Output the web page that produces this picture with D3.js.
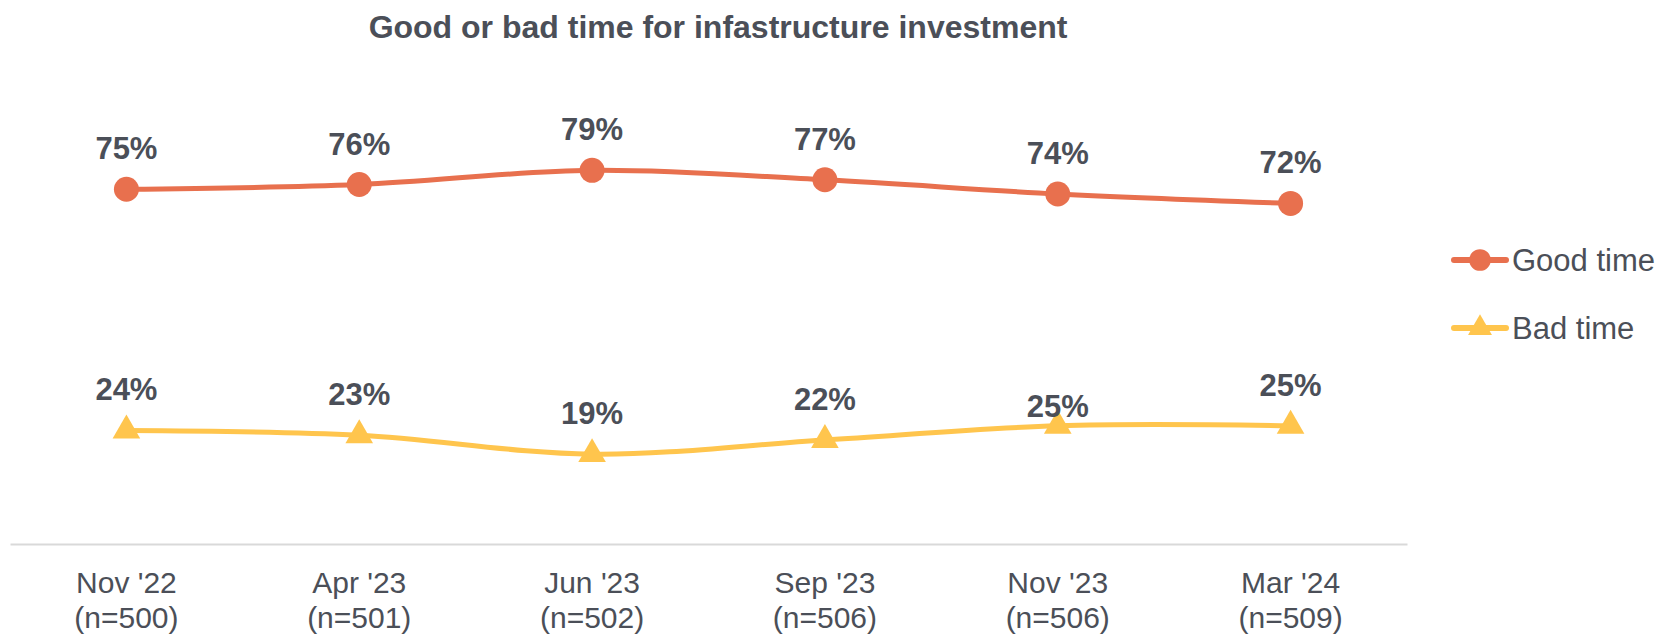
<!DOCTYPE html>
<html lang="en">
<head>
	<meta charset="UTF-8">
	<title>Good or bad time for infastructure investment</title>
	<script src="https://d3js.org/d3.v7.min.js"></script>
	<style>
		body {
			margin: 0;
			background-color: white;
		}
		svg {
			display: block;
			font-family: "Liberation Sans", Arial, sans-serif;
		}
		.axis path,
		.axis line {
			fill: none;
		}
		.axis text {
			font-size: 30px;
			fill: #4b4f58;
		}
		.label {
			font-size: 31px;
			font-weight: bold;
			fill: #4b4f58;
			text-anchor: middle;
		}
	</style>
</head>
<body>
	<script>
		// data
		var waves = ["Nov '22", "Apr '23", "Jun '23", "Sep '23", "Nov '23", "Mar '24"];
		var sampleSizes = ["(n=500)", "(n=501)", "(n=502)", "(n=506)", "(n=506)", "(n=509)"];
		var goodTime = [75, 76, 79, 77, 74, 72];
		var badTime = [24, 23, 19, 22, 25, 25];
		var seriesNames = ["Good time", "Bad time"];

		var w = 1661,
			h = 637;
		var margin = {top: 71, left: 10, right: 254, bottom: 93};
		var plotW = w - margin.left - margin.right,
			plotH = h - margin.top - margin.bottom;

		var colors = {"Good time": "#e8704e", "Bad time": "#ffc54d"};

		var svg = d3.select('body')
			.append('svg')
			.attr("width", w)
			.attr("height", h);

		svg.append('text')
			.attr('x', 718)
			.attr('y', 38)
			.attr('text-anchor', 'middle')
			.attr('font-size', '32px')
			.attr('font-weight', 'bold')
			.attr('fill', '#4b4f58')
			.text('Good or bad time for infastructure investment');

		var g = svg.append('g')
			.attr('transform', 'translate(' + margin.left + ',' + margin.top + ')');

		var x = d3.scaleBand()
			.domain(waves)
			.range([0, plotW]);

		var y = d3.scaleLinear()
			.domain([0, 100])
			.range([plotH, 0]);

		// category axis
		var xAxis = g.append('g')
			.attr('class', 'axis')
			.attr('transform', 'translate(0,' + plotH + ')')
			.call(d3.axisBottom(x).tickSize(0).tickFormat(''));
		xAxis.select('.domain')
			.attr('stroke', '#d9d9d9')
			.attr('stroke-width', 2);

		var ticks = xAxis.selectAll('.tick');
		ticks.select('text').remove();
		ticks.append('text')
			.attr('text-anchor', 'middle')
			.attr('y', 49)
			.text(function (d) { return d; });
		ticks.append('text')
			.attr('text-anchor', 'middle')
			.attr('y', 84)
			.text(function (d, i) { return sampleSizes[i]; });

		var series = [
			{name: "Good time", values: goodTime, marker: d3.symbolCircle, size: 490},
			{name: "Bad time", values: badTime, marker: d3.symbolTriangle, size: 330}
		];

		// Excel places one label lower than the rest
		var labelShift = {"Bad time|Nov '23": 21};

		var line = d3.line()
			.x(function (d, i) { return x(waves[i]) + x.bandwidth() / 2; })
			.y(function (d) { return y(d); })
			.curve(d3.curveCardinal.tension(0));

		series.forEach(function (s) {
			g.append('path')
				.attr('d', line(s.values))
				.attr('fill', 'none')
				.attr('stroke', colors[s.name])
				.attr('stroke-width', 5);

			g.selectAll('.pt-' + s.name.replace(' ', ''))
				.data(s.values)
				.enter()
				.append('path')
				.attr('d', d3.symbol().type(s.marker).size(s.size))
				.attr('fill', colors[s.name])
				.attr('transform', function (d, i) {
					return 'translate(' + (x(waves[i]) + x.bandwidth() / 2) + ',' + y(d) + ')';
				});

			g.selectAll('.lb-' + s.name.replace(' ', ''))
				.data(s.values)
				.enter()
				.append('text')
				.attr('class', 'label')
				.attr('x', function (d, i) { return x(waves[i]) + x.bandwidth() / 2; })
				.attr('y', function (d, i) {
					var shift = labelShift[s.name + '|' + waves[i]] || 0;
					return y(d) - 30 + shift;
				})
				.text(function (d) { return d + '%'; });
		});

		// legend
		var legend = svg.append('g')
			.attr('transform', 'translate(1452,260)');

		var item = legend.selectAll('g')
			.data(series)
			.enter()
			.append('g')
			.attr('transform', function (d, i) { return 'translate(0,' + (i * 68) + ')'; });

		item.append('line')
			.attr('x1', 2)
			.attr('x2', 54)
			.attr('stroke', function (d) { return colors[d.name]; })
			.attr('stroke-width', 6)
			.attr('stroke-linecap', 'round');

		item.append('path')
			.attr('d', function (d) {
				return d3.symbol().type(d.marker).size(d.size * 0.75)();
			})
			.attr('transform', 'translate(28,0)')
			.attr('fill', function (d) { return colors[d.name]; });

		item.append('text')
			.attr('x', 60)
			.attr('y', 11)
			.attr('font-size', '31px')
			.attr('fill', '#4b4f58')
			.text(function (d) { return d.name; });
	</script>
</body>
</html>
